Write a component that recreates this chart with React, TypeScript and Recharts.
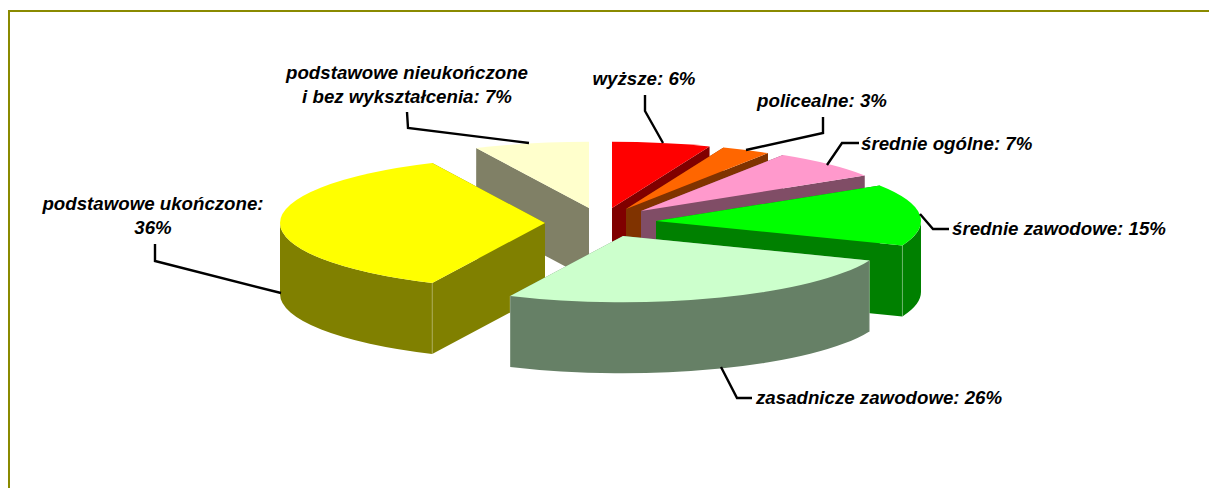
import React from "react";
import { PieChart, Pie } from "recharts";

// ---- data ----
const categories = [
  "podstawowe nieukończone i bez wykształcenia",
  "wyższe",
  "policealne",
  "średnie ogólne",
  "średnie zawodowe",
  "zasadnicze zawodowe",
  "podstawowe ukończone",
];
const shares = [7, 6, 3, 7, 15, 26, 36];

// ---- style ----
const topColors = ["#FFFFCC", "#FF0000", "#FF6600", "#FF99CC", "#00FF00", "#CCFFCC", "#FFFF00"];
const sideColors = ["#808066", "#800000", "#803300", "#804D66", "#008000", "#668066", "#808000"];
// explosion of each slice relative to the pie centre (px)
const CX = 600, CY = 215, RX = 265, SQUASH = 0.25, DEPTH = 71;
const explode: [number, number][] = [
  [-11, -7], [12, -7], [26, -6], [41, -4], [56, 6], [23, 21], [-55, 8],
];
// painter's order: slices drawn in the first pass, then the front one
const frontIndexes = [5];
const passOrder = [0, 1, 2, 3, 4, 6];
// label layout
const labelLines: string[][] = [
  ["podstawowe nieukończone", "i bez wykształcenia: 7%"],
  ["wyższe: 6%"],
  ["policealne: 3%"],
  ["średnie ogólne: 7%"],
  ["średnie zawodowe: 15%"],
  ["zasadnicze zawodowe: 26%"],
  ["podstawowe ukończone:", "36%"],
];
const labelAnchors: [number, number, "middle" | "start"][] = [
  [407, 79, "middle"],
  [644, 85, "middle"],
  [822, 107, "middle"],
  [861, 150, "start"],
  [952, 235, "start"],
  [756, 404, "start"],
  [153, 210, "middle"],
];
const leaders: [number, number][][] = [
  [[407, 112], [408, 128], [529, 143]],
  [[645, 95], [645, 111], [663, 143]],
  [[823, 117], [823, 133], [746, 150]],
  [[859, 143], [842, 143], [827, 165]],
  [[949, 229], [933, 229], [920, 214]],
  [[752, 398], [737, 398], [721, 367]],
  [[155, 244], [155, 261], [281, 293]],
];

const rows = categories.map((name, i) => ({ name, value: shares[i], index: i }));
const rad = (d: number) => (d * Math.PI) / 180;

// Elliptical 3D slice: geometry comes from Pie's own angles and radius
function slice3D(props: any, allowed: number[]) {
  const { cx, cy, outerRadius, startAngle, endAngle, payload } = props;
  const i = payload?.index ?? props.index;
  if (!allowed.includes(i)) return <g />;
  const ax = cx + explode[i][0];
  const ay = cy + explode[i][1];
  const rx = outerRadius;
  const ry = outerRadius * SQUASH;
  const pt = (deg: number): [number, number] => [
    ax + rx * Math.cos(rad(deg)),
    ay - ry * Math.sin(rad(deg)),
  ];
  const a0 = Math.max(startAngle, endAngle);
  const a1 = Math.min(startAngle, endAngle);
  const [sx, sy] = pt(a0);
  const [ex, ey] = pt(a1);
  const large = a0 - a1 > 180 ? 1 : 0;
  const faces: React.ReactNode[] = [];
  const top = `M${ax},${ay}L${sx},${sy}A${rx},${ry} 0 ${large} 1 ${ex},${ey}Z`;
  const wall = (deg: number) => {
    const [x, y] = pt(deg);
    return `M${ax},${ay}L${x},${y}L${x},${y + DEPTH}L${ax},${ay + DEPTH}Z`;
  };
  // radial walls
  const side = sideColors[i];
  faces.push(<path key="w0" d={wall(a0)} fill={side} />);
  faces.push(<path key="w1" d={wall(a1)} fill={side} />);
  // outer curved wall: only the front half of the ellipse
  const frontRanges: [number, number][] = [];
  for (const k of [0, -360]) {
    const hi = Math.min(a0, k);
    const lo = Math.max(a1, k - 180);
    if (hi > lo) frontRanges.push([hi, lo]);
  }
  frontRanges.forEach(([hi, lo], n) => {
    const [x0, y0] = pt(hi);
    const [x1, y1] = pt(lo);
    const lg = hi - lo > 180 ? 1 : 0;
    const d = `M${x0},${y0}A${rx},${ry} 0 ${lg} 1 ${x1},${y1}L${x1},${y1 + DEPTH}A${rx},${ry} 0 ${lg} 0 ${x0},${y0 + DEPTH}Z`;
    faces.push(<path key={`c${n}`} d={d} fill={side} />);
    // pale seam where the curved wall meets the flat one
    [hi, lo].forEach((a, m) => {
      if (a === a0 || a === a1) {
        const [px, py] = pt(a);
        faces.push(
          <line key={`s${n}${m}`} x1={px} y1={py} x2={px} y2={py + DEPTH} stroke="#ffffff" strokeOpacity={0.25} strokeWidth={1} />
        );
      }
    });
  });
  faces.push(<path key="t" d={top} fill={topColors[i]} />);
  return <g>{faces}</g>;
}

function renderLabel(props: any) {
  const i = props.payload?.index ?? props.index;
  const [x, y, anchor] = labelAnchors[i];
  const pts = leaders[i].map((p) => p.join(",")).join(" ");
  return (
    <g key={`lab-${i}`}>
      <polyline points={pts} fill="none" stroke="#000" strokeWidth={2.4} />
      {labelLines[i].map((t, n) => (
        <text key={n} x={x} y={y + n * 24} textAnchor={anchor} fontFamily="'Liberation Sans', Arial, sans-serif" fontWeight="bold" fontStyle="italic" fontSize={18.7} fill="#000">
          {t}
        </text>
      ))}
    </g>
  );
}

const pieProps = {
  data: rows,
  dataKey: "value",
  nameKey: "name",
  cx: CX,
  cy: CY,
  innerRadius: 0,
  outerRadius: RX,
  startAngle: 90 + (7 / 100) * 360,
  endAngle: 90 + (7 / 100) * 360 - 360,
  stroke: "none",
  isAnimationActive: false,
  legendType: "none" as const,
};

export default function App() {
  return (
    <div style={{ position: "absolute", left: 0, top: 0, width: 1209, height: 488, overflow: "hidden", background: "#fff" }}>
      <div style={{ position: "absolute", left: 8, top: 10, right: 0, bottom: 0, borderLeft: "2px solid #8A8A00", borderTop: "2px solid #8A8A00" }} />
      <div style={{ position: "absolute", left: 0, top: 0 }}>
        <PieChart width={1209} height={488} margin={{ top: 0, right: 0, bottom: 0, left: 0 }}>
          <Pie {...pieProps} shape={(p: any) => slice3D(p, passOrder)} label={false} labelLine={false} />
          <Pie {...pieProps} shape={(p: any) => slice3D(p, frontIndexes)} label={renderLabel} labelLine={false} />
        </PieChart>
      </div>
    </div>
  );
}
